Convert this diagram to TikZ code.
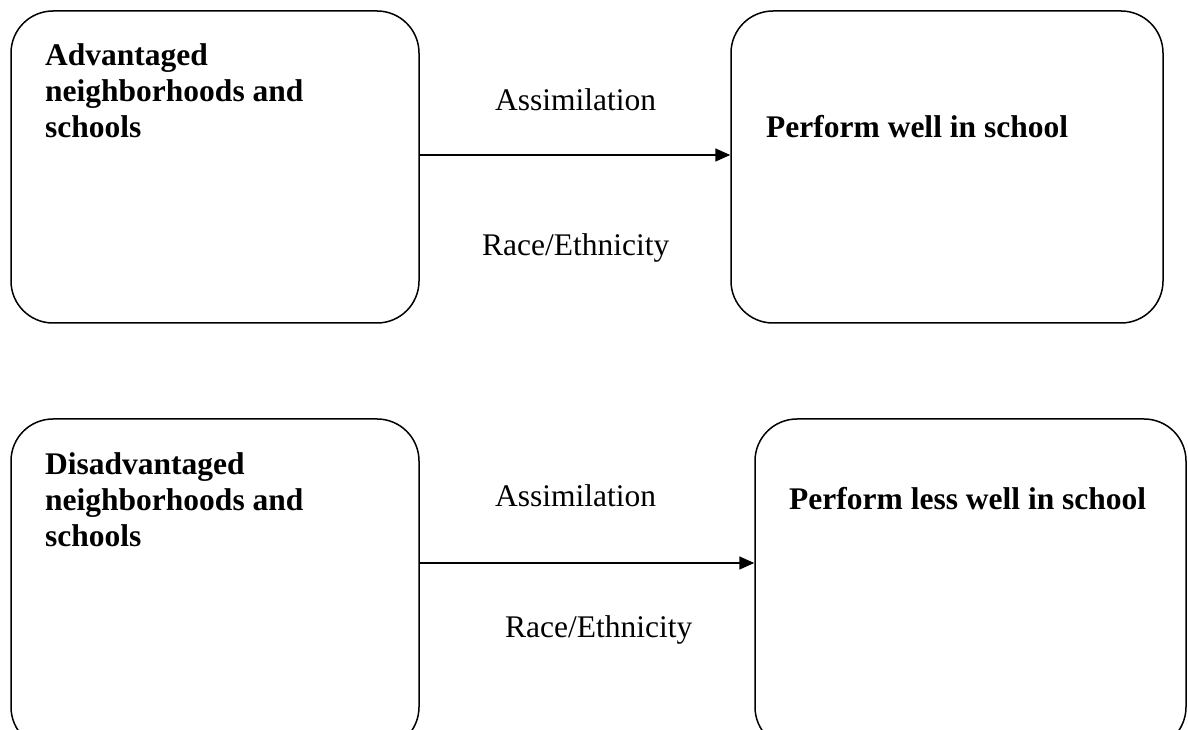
\documentclass[tikz,border=0pt]{standalone}
\usepackage{fontspec}
\setmainfont{Liberation Serif}
\usetikzlibrary{arrows.meta}
\tikzset{
  box/.style={draw=black, line width=1.5pt, rounded corners=42pt, inner sep=0pt},
  head/.style={font=\fontsize{31.5}{36}\selectfont\bfseries, inner sep=0pt, anchor=base west, align=left},
  lab/.style={font=\fontsize{31.5}{36}\selectfont, inner sep=0pt, anchor=base west},
  conn/.style={line width=1.6pt, -{Triangle[length=15pt,width=13pt]}}
}
\begin{document}
\begin{tikzpicture}[x=1pt,y=1pt]
\useasboundingbox (0,0) rectangle (1188,730);
\fill[white] (0,0) rectangle (1188,730);
% boxes
\node[box, minimum width=408pt, minimum height=312pt] (tl) at (215,563) {};
\node[box, minimum width=432pt, minimum height=312pt] (tr) at (947,563) {};
\node[box, minimum width=408pt, minimum height=330pt] (bl) at (215,146) {};
\node[box, minimum width=431pt, minimum height=330pt] (br) at (970.5,146) {};
% box texts (base anchor = baseline of last line)
\node[head] (tlt) at (45,592) {Advantaged\\neighborhoods and\\schools};
\node[head] (trt) at (766,592) {Perform well in school};
\node[head] (blt) at (45,183) {Disadvantaged\\neighborhoods and\\schools};
\node[head] (brt) at (789,220) {Perform less well in school};
% connector labels
\node[lab] (a1) at (495,619) {Assimilation};
\node[lab] (r1) at (482,474) {Race/Ethnicity};
\node[lab] (a2) at (495,223) {Assimilation};
\node[lab] (r2) at (505,92) {Race/Ethnicity};
% connectors
\draw[conn] ([yshift=12pt]tl.east) -- ([yshift=12pt]tr.west);
\draw[conn] ([yshift=21pt]bl.east) -- ([yshift=21pt]br.west);
\end{tikzpicture}
\end{document}
